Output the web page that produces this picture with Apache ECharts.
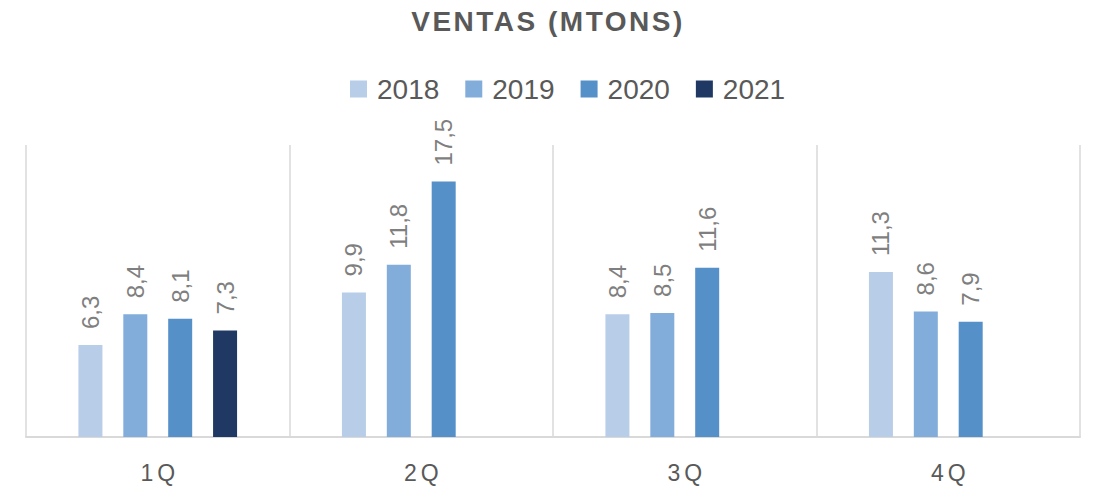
<!DOCTYPE html>
<html>
<head>
<meta charset="utf-8">
<script src="https://cdn.jsdelivr.net/npm/echarts@6/dist/echarts.min.js"></script>
<style>
  html, body { margin: 0; padding: 0; background: #fff; }
  #chart { width: 1094px; height: 488px; }
</style>
</head>
<body>
<div id="chart"></div>
<script>
var quarters = ['1Q', '2Q', '3Q', '4Q'];
var years = ['2018', '2019', '2020', '2021'];
var sales2018 = [6.3, 9.9, 8.4, 11.3];
var sales2019 = [8.4, 11.8, 8.5, 8.6];
var sales2020 = [8.1, 17.5, 11.6, 7.9];
var sales2021 = [7.3, null, null, null];
var colors = ['#B7CDE8', '#82ADDB', '#5590C8', '#203864'];
var titleText = 'VENTAS (MTONS)';

var chart = echarts.init(document.getElementById('chart'), null, { renderer: 'svg' });

function makeSeries(name, values) {
    return {
        name: name,
        type: 'bar',
        barWidth: 24,
        barGap: '87%',
        data: values,
        label: {
            show: true,
            position: 'top',
            rotate: 90,
            align: 'left',
            verticalAlign: 'middle',
            distance: 16,
            color: '#7F7F7F',
            fontSize: 24,
            fontFamily: 'Liberation Sans',
            formatter: function (p) {
                return String(p.value).replace('.', ',');
            }
        }
    };
}

var option = {
    animation: false,
    color: colors,
    title: {
        text: titleText,
        left: 'center',
        top: 2,
        textStyle: {
            color: '#595959',
            fontSize: 28,
            fontWeight: 'bold',
            fontFamily: 'Liberation Sans'
        }
    },
    legend: {
        data: years,
        left: 345,
        top: 70,
        itemWidth: 17,
        itemHeight: 17,
        itemGap: 26,
        icon: 'rect',
        textStyle: {
            color: '#595959',
            fontSize: 28,
            fontFamily: 'Liberation Sans',
            padding: [0, 0, 0, 5]
        }
    },
    grid: {
        left: 26,
        right: 14,
        top: 145,
        bottom: 51
    },
    xAxis: {
        type: 'category',
        data: quarters,
        axisTick: { show: false },
        axisLine: { lineStyle: { color: '#D9D9D9', width: 2 } },
        axisLabel: {
            color: '#595959',
            fontSize: 23,
            fontFamily: 'Liberation Sans',
            margin: 24
        },
        splitLine: {
            show: true,
            lineStyle: { color: '#D9D9D9', width: 1.5 }
        }
    },
    yAxis: {
        type: 'value',
        min: 0,
        max: 20,
        show: false,
        splitLine: { show: false }
    },
    series: [
        makeSeries(years[0], sales2018),
        makeSeries(years[1], sales2019),
        makeSeries(years[2], sales2020),
        makeSeries(years[3], sales2021)
    ]
};

chart.setOption(option);

// the original title and quarter labels are letter-spaced
document.querySelectorAll('#chart text').forEach(function (t) {
    var s = t.textContent;
    if (s === titleText) {
        t.style.letterSpacing = '2.5px';
        t.setAttribute('dx', '1');
    } else if (quarters.indexOf(s) >= 0) {
        t.style.letterSpacing = '4px';
        t.setAttribute('dx', '2');
    }
});
</script>
</body>
</html>
